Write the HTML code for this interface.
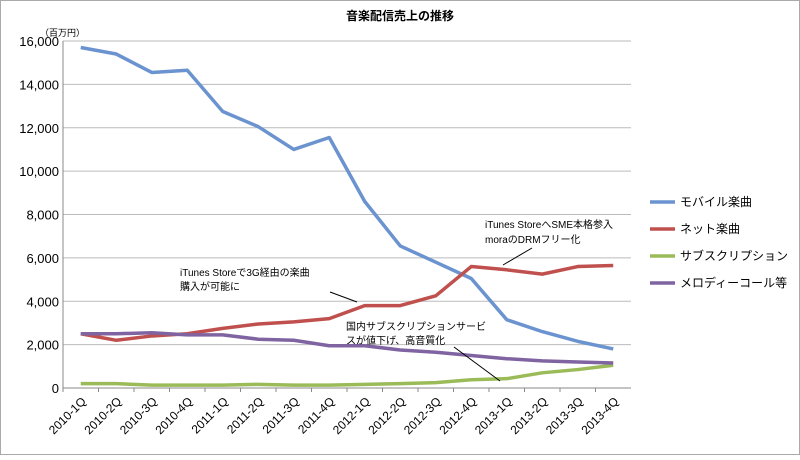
<!DOCTYPE html>
<html><head><meta charset="utf-8"><style>
body{margin:0;background:#fff;}
svg text{font-family:"Liberation Sans","Noto Sans CJK JP",sans-serif;}
</style></head><body>
<svg id="c" width="800" height="455" xmlns="http://www.w3.org/2000/svg">
<rect x="0.5" y="0.5" width="799" height="454" fill="#fff" stroke="#aaa"/>
<text x="400" y="20" text-anchor="middle" font-size="12" font-weight="bold">音楽配信売上の推移</text>
<text x="40" y="36" font-size="9">（百万円）</text>
<g id="grid"></g><g id="lines"></g>
<g font-size="12">
<line x1="650" y1="202" x2="675" y2="202" stroke="#6b93cf" stroke-width="3.5"/><text x="680" y="206">モバイル楽曲</text>
<line x1="650" y1="229" x2="675" y2="229" stroke="#c0504d" stroke-width="3.5"/><text x="680" y="233">ネット楽曲</text>
<line x1="650" y1="256" x2="675" y2="256" stroke="#9bbb59" stroke-width="3.5"/><text x="680" y="260">サブスクリプション</text>
<line x1="650" y1="283" x2="675" y2="283" stroke="#8064a2" stroke-width="3.5"/><text x="680" y="287">メロディーコール等</text>
</g>
<g font-size="10">
<text x="485" y="228">iTunes StoreへSME本格参入</text>
<text x="485" y="243">moraのDRMフリー化</text>
<line x1="532" y1="248" x2="503" y2="265" stroke="#000"/>
<text x="180" y="276">iTunes Storeで3G経由の楽曲</text>
<text x="180" y="290">購入が可能に</text>
<line x1="330" y1="292" x2="357" y2="302" stroke="#000"/>
<text x="346" y="330">国内サブスクリプションサービ</text>
<text x="346" y="344">スが値下げ、高音質化</text>
<line x1="454" y1="347" x2="500" y2="381" stroke="#000"/>
</g>
</svg>
<script>
const categories=["2010-1Q","2010-2Q","2010-3Q","2010-4Q","2011-1Q","2011-2Q","2011-3Q","2011-4Q","2012-1Q","2012-2Q","2012-3Q","2012-4Q","2013-1Q","2013-2Q","2013-3Q","2013-4Q"];
const mobile=[15700,15400,14550,14650,12750,12050,11000,11550,8600,6550,5800,5050,3150,2600,2150,1800];
const net=[2500,2200,2400,2500,2750,2950,3050,3200,3800,3800,4250,5600,5450,5250,5600,5650];
const subscription=[200,200,130,130,130,170,130,130,170,200,250,380,430,700,850,1050];
const melody=[2500,2500,2550,2450,2450,2250,2200,1950,1950,1750,1650,1500,1350,1250,1200,1150];
const yTicks=[0,2000,4000,6000,8000,10000,12000,14000,16000];
const NS="http://www.w3.org/2000/svg";
const L=63,R=631,T=41,B=388;
const x=i=>L+(R-L)/categories.length*(i+0.5);
const y=v=>B-(B-T)*v/16000;
function mk(t,a,p){const e=document.createElementNS(NS,t);for(const k in a)e.setAttribute(k,a[k]);p.appendChild(e);return e;}
const g=document.getElementById('grid');
yTicks.forEach(v=>{
 const l=mk('line',{x1:L,x2:R,y1:y(v),y2:y(v),stroke:v?'#bbb':'#888'},g);
 
 
 const t=mk('text',{x:L-4,y:y(v)+5,'text-anchor':'end','font-size':13},g);
 t.textContent=v.toLocaleString('en-US');
 
 
});
mk('line',{x1:L,x2:L,y1:T,y2:B,stroke:'#888'},g);
categories.forEach((c,i)=>{
 mk('line',{x1:L+(R-L)/16*i,x2:L+(R-L)/16*i,y1:B,y2:B+4,stroke:'#888'},g);
 const t=mk('text',{x:x(i)+6,y:B+14,'text-anchor':'end','font-size':12,transform:`rotate(-45 ${x(i)+6} ${B+14})`},g);
 t.textContent=c;
 
 
});
const lg=document.getElementById('lines');
[[mobile,'#6b93cf','line-mobile'],[net,'#c0504d','line-net'],[subscription,'#9bbb59','line-subscription'],[melody,'#8064a2','line-melody']].forEach(([d,col,n])=>{
 const p=mk('polyline',{points:d.map((v,i)=>x(i)+','+y(v)).join(' '),fill:'none',stroke:col,'stroke-width':3.5,'stroke-linejoin':'round'},lg);
 
 
});
</script>
</body></html>
